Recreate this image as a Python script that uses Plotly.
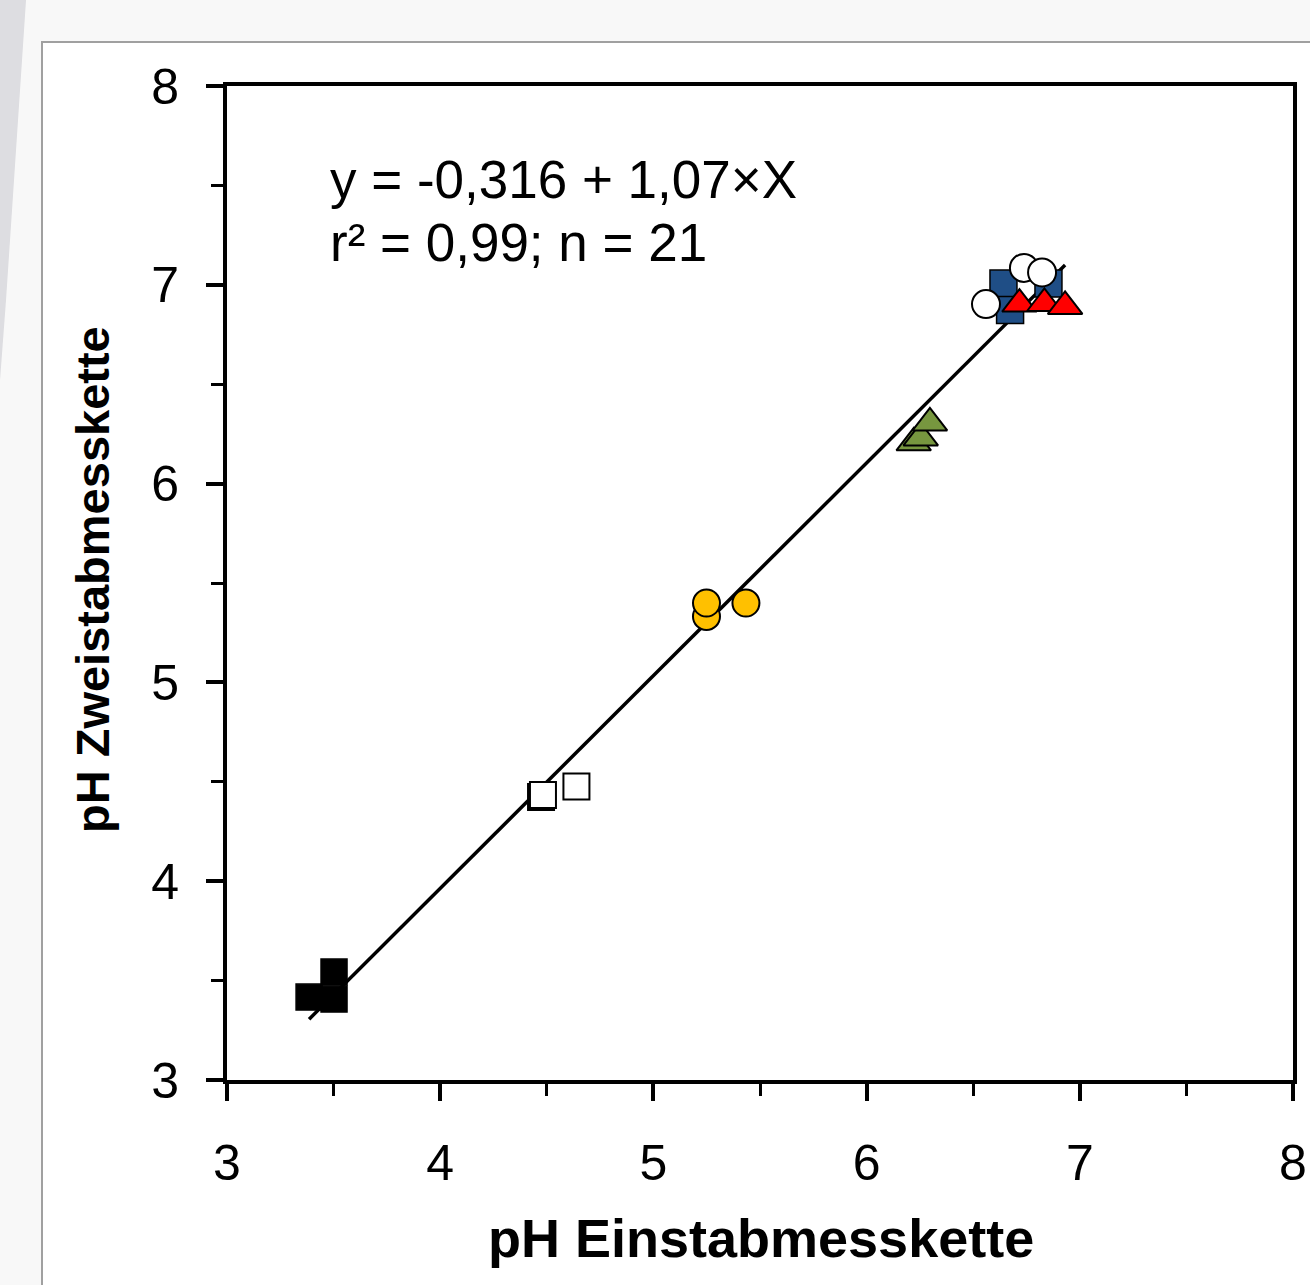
import plotly.graph_objects as go

# ---- data ----
black_sq_x = [3.385, 3.502, 3.502]
black_sq_y = [3.417, 3.543, 3.407]
open_sq_x = [4.473, 4.482, 4.639]
open_sq_y = [4.424, 4.434, 4.476]
yellow_x = [5.249, 5.249, 5.434]
yellow_y = [5.332, 5.399, 5.399]
green_x = [6.221, 6.254, 6.297]
green_y = [6.205, 6.230, 6.305]
blue_sq_x = [6.642, 6.673, 6.853]
blue_sq_y = [7.006, 6.873, 7.006]
white_c_x = [6.560, 6.738, 6.823]
white_c_y = [6.903, 7.085, 7.062]
red_x = [6.717, 6.834, 6.931]
red_y = [6.903, 6.906, 6.891]

intercept = -0.316
slope = 1.07
eq_text = "y = -0,316 + 1,07×X"
stat_text = "r² = 0,99; n = 21"
x_title = "pH Einstabmesskette"
y_title = "pH Zweistabmesskette"
tick_vals = [3, 4, 5, 6, 7, 8]

all_x = black_sq_x + open_sq_x + yellow_x + green_x + blue_sq_x + white_c_x + red_x
line_x = [min(all_x), max(all_x)]
line_y = [intercept + slope * v for v in line_x]

FONT = "Liberation Sans, Arial, sans-serif"

# page geometry helpers (pixel -> paper)
L, R, T, B = 227, 1293, 86, 1080
W, H = 1310, 1285
def px(xp):
    return (xp - L) / (R - L)
def py(yp):
    return (B - yp) / (B - T)

fig = go.Figure()
fig.add_trace(go.Scatter(x=line_x, y=line_y, mode="lines",
                         line=dict(color="black", width=3.5), hoverinfo="skip"))

def add_markers(xs, ys, symbol, size, fill, lw=1.5):
    fig.add_trace(go.Scatter(x=xs, y=ys, mode="markers",
                             marker=dict(symbol=symbol, size=size, color=fill,
                                         line=dict(color="black", width=lw))))

add_markers(black_sq_x, black_sq_y, "square", 26, "black")
add_markers(open_sq_x, open_sq_y, "square", 26, "white", 2)
add_markers(yellow_x, yellow_y, "circle", 27, "#FFC000", 2)
add_markers(green_x, green_y, "triangle-up", 30, "#77973F", 2)
add_markers(blue_sq_x, blue_sq_y, "square", 27, "#1F4E86", 1.5)
add_markers(white_c_x, white_c_y, "circle", 28, "white", 2)
add_markers(red_x, red_y, "triangle-up", 30, "#FF0000", 2)

axis_common = dict(
    showgrid=False, zeroline=False, showline=True, linecolor="black", linewidth=4,
    mirror=True, ticks="outside", ticklen=17, tickwidth=4, tickcolor="black",
    tickvals=tick_vals, tickfont=dict(family=FONT, size=50, color="black"),
    minor=dict(dtick=0.5, ticks="outside", ticklen=12, tickwidth=3, tickcolor="black"),
    automargin=False,
)
fig.update_xaxes(range=[3, 8], ticklabelstandoff=19, **axis_common)
fig.update_yaxes(range=[3, 8], ticklabelstandoff=17, **axis_common)

# background panel
shapes = [
    dict(type="path", xref="paper", yref="paper", layer="below",
         path=f"M {px(0)},{py(0)} L {px(26)},{py(0)} L {px(18)},{py(120)} L {px(6)},{py(300)} L {px(0)},{py(380)} Z",
         fillcolor="rgba(140,140,155,0.25)", line=dict(width=0)),
    dict(type="rect", xref="paper", yref="paper", layer="below",
         x0=px(42), x1=px(W + 20), y0=py(H + 20), y1=py(42),
         fillcolor="white", line=dict(color="#A0A0A0", width=2)),
]

annotations = [
    dict(text=eq_text, xref="paper", yref="paper", x=px(328), y=py(179),
         xanchor="left", yanchor="middle", showarrow=False,
         font=dict(family=FONT, size=53, color="black")),
    dict(text=stat_text, xref="paper", yref="paper", x=px(328), y=py(242),
         xanchor="left", yanchor="middle", showarrow=False,
         font=dict(family=FONT, size=53, color="black")),
    dict(text=f"<b>{x_title}</b>", xref="paper", yref="paper", x=px(761), y=py(1238),
         xanchor="center", yanchor="middle", showarrow=False,
         font=dict(family=FONT, size=54, color="black")),
    dict(text=f"<b>{y_title}</b>", xref="paper", yref="paper", x=px(92), y=py(580),
         xanchor="center", yanchor="middle", showarrow=False, textangle=-90,
         font=dict(family=FONT, size=47, color="black")),
]

fig.update_layout(
    width=W, height=H, autosize=False, showlegend=False,
    margin=dict(l=L, r=W - R, t=T, b=H - B, pad=0),
    plot_bgcolor="white", paper_bgcolor="#F8F8F8",
    shapes=shapes, annotations=annotations,
)

fig.write_html(
    "out.html",
    config={"displayModeBar": False},
    post_script="document.body.style.margin='0';document.body.style.overflow='hidden';",
)
